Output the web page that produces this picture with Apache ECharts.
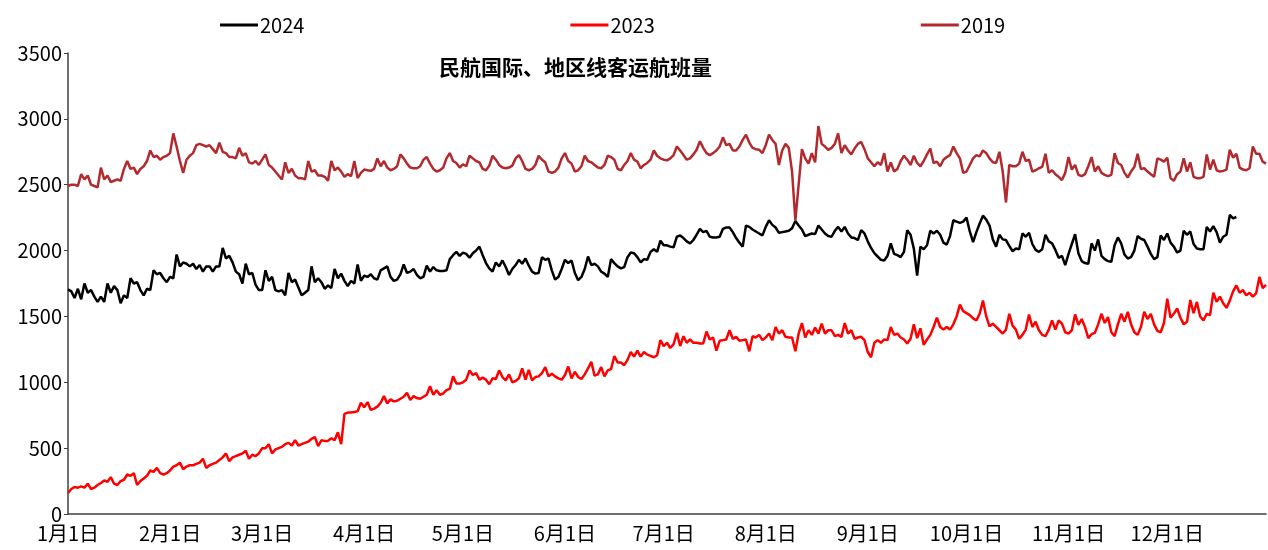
<!DOCTYPE html>
<html>
<head>
<meta charset="utf-8">
<title>民航国际、地区线客运航班量</title>
<script src="https://cdn.jsdelivr.net/npm/echarts@6/dist/echarts.min.js"></script>
<style>
html, body { margin: 0; padding: 0; background: #fff; }
#chart { width: 1268px; height: 550px; }
</style>
</head>
<body>
<div id="chart"></div>
<script>
// 每日航班量（班次/日），按日读取
var monthDays = [31, 28, 31, 30, 31, 30, 31, 31, 30, 31, 30, 31];
var seriesNames = ['2024', '2023', '2019'];

var data2024 = [
  1705, 1690, 1640, 1710, 1630, 1750, 1680, 1700, 1650, 1610,
  1650, 1610, 1750, 1680, 1730, 1700, 1600, 1660, 1640, 1790,
  1750, 1760, 1700, 1660, 1710, 1700, 1850, 1820, 1830, 1790,
  1760, 1800, 1790, 1970, 1880, 1910, 1900, 1880, 1900, 1860,
  1890, 1840, 1880, 1880, 1840, 1880, 1880, 2020, 1940, 1960,
  1910, 1840, 1820, 1750, 1900, 1820, 1830, 1740, 1700, 1700,
  1850, 1770, 1800, 1700, 1690, 1700, 1660, 1830, 1760, 1780,
  1720, 1660, 1680, 1700, 1880, 1760, 1790, 1760, 1710, 1735,
  1715, 1860, 1790, 1825, 1770, 1730, 1770, 1750, 1895, 1770,
  1810, 1800, 1820, 1790, 1780, 1850, 1865, 1880, 1800, 1770,
  1780, 1820, 1895, 1830, 1840, 1860, 1815, 1790, 1800, 1885,
  1840, 1875, 1850, 1845, 1845, 1850, 1935, 1965, 1990, 1960,
  1985, 1975, 1945, 1980, 2000, 2030, 1965, 1905, 1865, 1840,
  1910, 1880, 1925, 1875, 1815, 1860, 1890, 1930, 1900, 1940,
  1885, 1840, 1825, 1830, 1950, 1930, 1940, 1850, 1780, 1800,
  1860, 1930, 1905, 1925, 1830, 1775, 1800, 1860, 1955, 1890,
  1900, 1880, 1840, 1825, 1800, 1935, 1905, 1880, 1865, 1875,
  1950, 1985, 1980, 1950, 1910, 1935, 1930, 1990, 2010, 1990,
  2075, 2040, 2040, 2030, 2025, 2105, 2115, 2095, 2070, 2055,
  2080, 2120, 2165, 2140, 2150, 2105, 2100, 2100, 2105, 2165,
  2175, 2175, 2140, 2095, 2060, 2030, 2190, 2180, 2160, 2145,
  2130, 2115, 2180, 2230, 2195, 2175, 2135, 2140, 2145, 2150,
  2170, 2225, 2190, 2160, 2110, 2120, 2130, 2125, 2190, 2160,
  2130, 2110, 2105, 2150, 2180, 2145, 2180, 2130, 2100, 2095,
  2080, 2155, 2130, 2070, 2020, 1980, 1955, 1930, 1925, 1960,
  2055, 1975, 1965, 1950, 1990, 2155, 2120, 2015, 1810, 2030,
  2010, 2040, 2150, 2130, 2150, 2120, 2060, 2045, 2110, 2230,
  2220, 2210, 2220, 2250, 2145, 2065, 2140, 2205, 2265, 2235,
  2190, 2085, 2030, 2120, 2085, 2080, 2035, 1995, 2015, 2010,
  2130, 2105, 2135, 2050, 2005, 1990, 2010, 2120, 2070, 2055,
  2005, 1945, 1960, 1890, 1975, 2050, 2125, 1980, 1920, 1905,
  1900, 2055, 2000, 2085, 1960, 1935, 1920, 1915, 2040, 2100,
  2055, 1970, 1940, 1950, 2000, 2110, 2090, 2080, 2030, 1975,
  1935, 1950, 2115, 2080, 2130, 2060, 2030, 1985, 2000, 2150,
  2120, 2145, 2050, 2015, 2010, 2010, 2180, 2145, 2185, 2140,
  2060, 2105, 2120, 2270, 2245, 2255
];

var data2023 = [
  160, 190, 205, 200, 210, 200, 230, 190, 200, 220,
  235, 255, 245, 280, 230, 220, 250, 260, 300, 290,
  310, 220, 250, 270, 290, 330, 320, 350, 310, 300,
  310, 330, 360, 370, 390, 340, 360, 370, 370, 380,
  390, 420, 350, 370, 380, 390, 410, 430, 460, 400,
  430, 440, 450, 460, 480, 420, 450, 440, 460, 500,
  500, 530, 460, 490, 500, 510, 530, 540, 520, 560,
  520, 530, 540, 550, 570, 585, 515, 560, 555, 555,
  575, 560, 620, 530, 760, 770, 770, 775, 780, 845,
  810, 850, 790, 800, 815, 845, 895, 840, 870, 855,
  860, 875, 890, 920, 865, 895, 880, 875, 890, 905,
  970, 905, 940, 905, 915, 940, 950, 1045, 990, 990,
  1000, 1020, 1090, 1055, 1070, 1020, 1035, 1020, 985, 1030,
  1025, 1090, 1040, 1015, 1060, 1000, 1010, 1030, 1105, 1020,
  1095, 1015, 1040, 1045, 1070, 1115, 1045, 1065, 1045, 1030,
  1020, 1055, 1120, 1030, 1080, 1040, 1025, 1060, 1105, 1155,
  1050, 1060, 1115, 1045, 1090, 1100, 1200, 1150, 1150, 1130,
  1170, 1230, 1195, 1240, 1195, 1230, 1210, 1200, 1190, 1205,
  1320, 1275, 1300, 1260, 1290, 1375, 1275, 1350, 1300, 1325,
  1300, 1300, 1295, 1295, 1385, 1325, 1340, 1240, 1315, 1320,
  1325, 1395, 1330, 1345, 1315, 1320, 1325, 1235, 1350, 1340,
  1360, 1320, 1340, 1370, 1320, 1420, 1370, 1395, 1345, 1340,
  1340, 1235, 1370, 1450, 1340, 1395, 1360, 1415, 1370, 1445,
  1370, 1395, 1395, 1350, 1360, 1345, 1450, 1370, 1395, 1330,
  1340, 1345, 1320, 1230, 1190, 1300, 1320, 1300, 1325, 1320,
  1420, 1360, 1370, 1340, 1325, 1295, 1330, 1440, 1335, 1410,
  1285, 1325, 1360, 1420, 1490, 1420, 1400, 1420, 1400, 1440,
  1500, 1590, 1540, 1525, 1510, 1485, 1470, 1520, 1620, 1500,
  1425, 1445, 1420, 1395, 1370, 1400, 1520, 1430, 1400, 1330,
  1360, 1400, 1515, 1420, 1460, 1395, 1360, 1350, 1400, 1470,
  1400, 1470, 1445, 1380, 1370, 1395, 1515, 1435, 1480, 1420,
  1335, 1365, 1375, 1440, 1520, 1450, 1495, 1380, 1350, 1440,
  1520, 1460, 1535, 1440, 1380, 1360, 1420, 1535, 1480, 1520,
  1440, 1390, 1380, 1450, 1635, 1490, 1520, 1560, 1490, 1440,
  1460, 1625, 1525, 1610, 1500, 1470, 1520, 1510, 1680, 1610,
  1650, 1600, 1565, 1620, 1690, 1735, 1680, 1700, 1660, 1680,
  1650, 1675, 1800, 1715, 1740
];

var data2019 = [
  2490, 2500, 2500, 2490, 2580, 2540, 2570, 2500, 2490, 2480,
  2630, 2540, 2570, 2520, 2530, 2540, 2530, 2620, 2680, 2620,
  2630, 2580, 2620, 2640, 2680, 2760, 2710, 2720, 2690, 2710,
  2720, 2740, 2890, 2790, 2680, 2590, 2690, 2720, 2740, 2800,
  2810, 2800, 2790, 2800, 2770, 2740, 2820, 2750, 2740, 2710,
  2710, 2700, 2780, 2720, 2740, 2670, 2660, 2680, 2650, 2690,
  2730, 2650, 2630, 2600, 2570, 2540, 2670, 2590, 2620, 2570,
  2550, 2550, 2540, 2680, 2600, 2610, 2570, 2570, 2560, 2530,
  2680, 2610, 2630, 2600, 2560, 2580, 2565, 2680, 2550, 2590,
  2615, 2610, 2605, 2620, 2700, 2640, 2680, 2630, 2610, 2620,
  2640, 2730, 2700, 2660, 2630, 2625, 2625, 2640, 2690, 2710,
  2660, 2620, 2600, 2610, 2630, 2700, 2740, 2680, 2665, 2630,
  2655, 2640, 2720, 2700, 2680, 2670, 2620, 2610, 2645, 2720,
  2690, 2650, 2630, 2625, 2630, 2645, 2700, 2725, 2680, 2620,
  2610, 2620, 2650, 2720, 2690, 2670, 2600, 2590, 2600, 2630,
  2700, 2740, 2680, 2660, 2600, 2610, 2640, 2720, 2680, 2670,
  2650, 2630, 2625, 2650, 2720, 2710, 2690, 2620, 2610, 2650,
  2680, 2740, 2690, 2675, 2625, 2650, 2665, 2690, 2760, 2720,
  2700, 2690, 2685, 2700, 2725, 2790, 2760, 2725, 2690, 2700,
  2730, 2765, 2830, 2780, 2740, 2725, 2740, 2760, 2790, 2860,
  2800, 2810, 2760, 2760, 2790, 2840, 2880, 2820, 2780, 2770,
  2765, 2740, 2800, 2880, 2840, 2810, 2650, 2760, 2810, 2780,
  2600, 2230, 2500, 2770, 2700, 2660, 2740, 2670, 2945, 2810,
  2790, 2765, 2780, 2810, 2890, 2740, 2800, 2760, 2730, 2775,
  2810, 2825, 2770, 2700, 2670, 2640, 2670, 2650, 2740, 2600,
  2670, 2600, 2620, 2680, 2720, 2690, 2650, 2720, 2665, 2640,
  2680, 2730, 2775, 2665, 2675, 2640, 2690, 2710, 2725, 2790,
  2740, 2700, 2590, 2600, 2650, 2700, 2725, 2715, 2760, 2740,
  2700, 2670, 2665, 2750, 2600, 2365, 2650, 2640, 2640, 2660,
  2750, 2680, 2690, 2600, 2610, 2625, 2635, 2735, 2590, 2610,
  2580, 2560, 2535, 2590, 2710, 2615, 2650, 2575, 2565, 2580,
  2640, 2710, 2600, 2640, 2590, 2575, 2565, 2575, 2740, 2665,
  2650, 2590, 2555, 2600, 2635, 2735, 2620, 2625, 2600, 2580,
  2560, 2700, 2690, 2675, 2705, 2550, 2530, 2580, 2600, 2700,
  2600, 2670, 2560, 2550, 2550, 2560, 2730, 2615, 2690, 2610,
  2600, 2605, 2615, 2765, 2705, 2735, 2630, 2615, 2610, 2625,
  2790, 2735, 2735, 2675, 2660
];

// x轴日期
var dates = [];
var monthStart = {};
for (var m = 0; m < 12; m++) {
  for (var d = 1; d <= monthDays[m]; d++) {
    if (d === 1) monthStart[dates.length] = true;
    dates.push((m + 1) + '月' + d + '日');
  }
}

var FONT = '"Noto Sans CJK SC", "Noto Sans", sans-serif';

var myChart = echarts.init(document.getElementById('chart'), null, { renderer: 'canvas' });

option = {
  backgroundColor: '#ffffff',
  animation: false,
  textStyle: { fontFamily: FONT },
  title: {
    text: '民航国际、地区线客运航班量',
    left: 434,
    top: 52,
    textStyle: { fontFamily: FONT, fontSize: 21, fontWeight: 'bold', color: '#000' }
  },
  legend: {
    data: seriesNames,
    left: 215,
    top: 10,
    itemGap: 266,
    itemWidth: 38,
    itemHeight: 3,
    icon: 'rect',
    textStyle: { fontFamily: FONT, fontSize: 20, color: '#000', padding: [0, 0, 0, -3] }
  },
  grid: {
    left: 68,
    right: 2,
    top: 53,
    bottom: 36,
    outerBoundsMode: 'none'
  },
  xAxis: {
    type: 'category',
    boundaryGap: false,
    data: dates,
    axisLine: { lineStyle: { color: '#404040', width: 1.5 } },
    axisTick: { show: false },
    splitLine: { show: false },
    axisLabel: {
      interval: function (index) { return monthStart[index] === true; },
      margin: 9,
      fontFamily: FONT,
      fontSize: 20,
      color: '#000',
      hideOverlap: false
    }
  },
  yAxis: {
    type: 'value',
    min: 0,
    max: 3500,
    interval: 500,
    axisLine: { show: true, lineStyle: { color: '#404040', width: 1.5 } },
    axisTick: { show: true, length: 4, lineStyle: { color: '#404040' } },
    splitLine: { show: false },
    axisLabel: {
      margin: 6,
      fontFamily: FONT,
      fontSize: 20,
      color: '#000',
      formatter: function (v) { return String(v); }
    }
  },
  series: [{
    name: '2024',
    type: 'line',
    data: data2024,
    showSymbol: false,
    symbol: 'none',
    itemStyle: { color: '#000000' },
    lineStyle: { color: '#000000', width: 2.5 }
  }, {
    name: '2023',
    type: 'line',
    data: data2023,
    showSymbol: false,
    symbol: 'none',
    itemStyle: { color: '#ff0000' },
    lineStyle: { color: '#ff0000', width: 2.5 }
  }, {
    name: '2019',
    type: 'line',
    data: data2019,
    showSymbol: false,
    symbol: 'none',
    itemStyle: { color: '#b22a2e' },
    lineStyle: { color: '#b22a2e', width: 2.5 }
  }]
};

myChart.setOption(option);
</script>
</body>
</html>
